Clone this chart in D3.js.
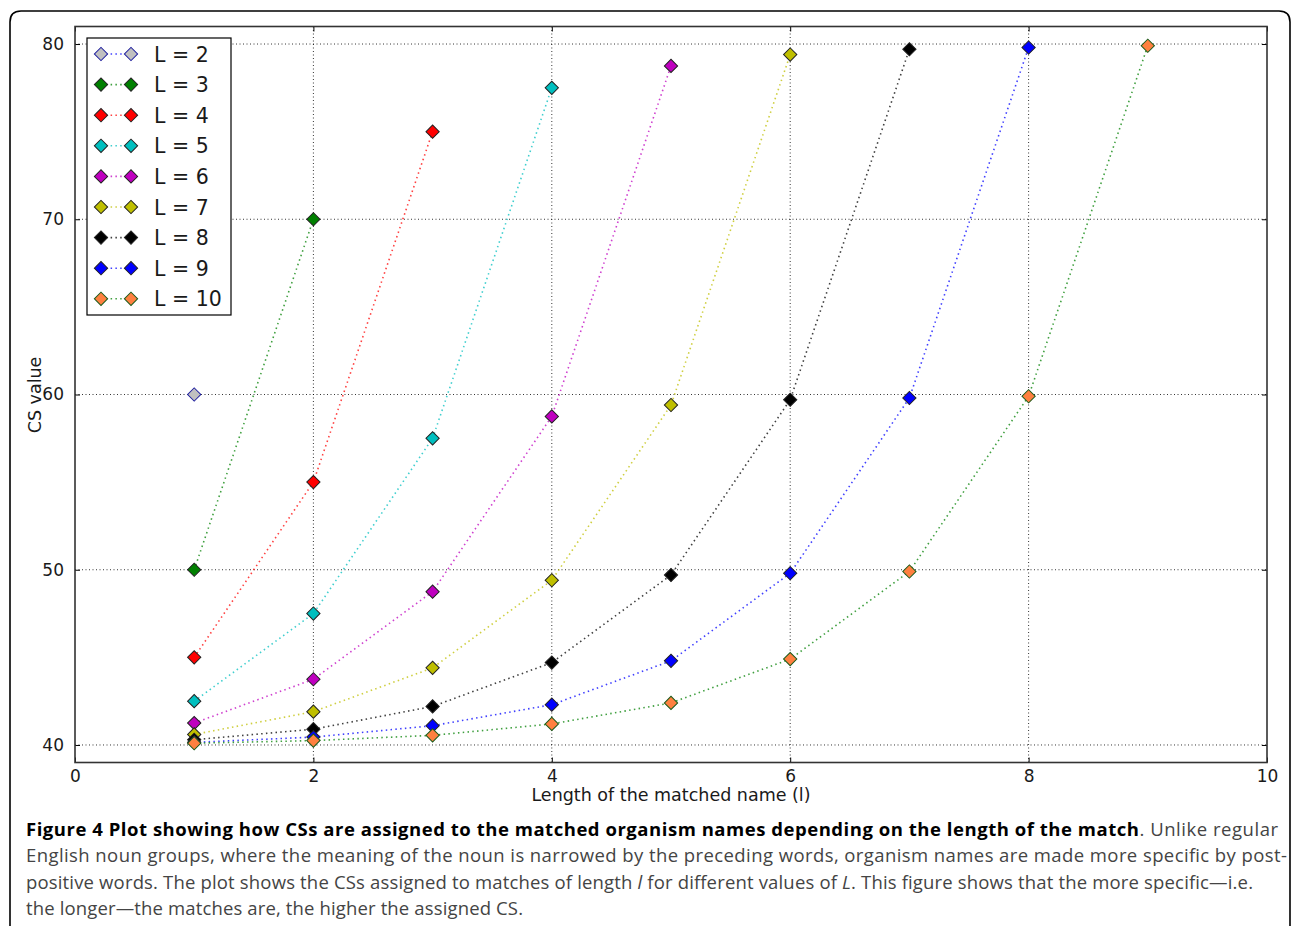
<!DOCTYPE html>
<html lang="en">

<head>
    <meta charset="utf-8">
    <title>CS value vs length of match</title>
    <script type="text/javascript" src="https://cdn.jsdelivr.net/npm/d3@7/dist/d3.min.js"></script>
    <style>
      body { margin: 0; background: #fff; }
      svg { display: block; }
    </style>
</head>

<body>
    <script type="text/javascript">
      var w = 1292;
      var h = 926;

      //// Data
      var lengths = [1, 2, 3, 4, 5, 6, 7, 8, 9];
      var seriesNames = ["L = 2", "L = 3", "L = 4", "L = 5", "L = 6", "L = 7", "L = 8", "L = 9", "L = 10"];
      var csL2 = [60];
      var csL3 = [50, 70];
      var csL4 = [45, 55, 75];
      var csL5 = [42.5, 47.5, 57.5, 77.5];
      var csL6 = [41.25, 43.75, 48.75, 58.75, 78.75];
      var csL7 = [40.6, 41.9, 44.4, 49.4, 59.4, 79.4];
      var csL8 = [40.3, 40.9, 42.2, 44.7, 49.7, 59.7, 79.7];
      var csL9 = [40.15, 40.45, 41.1, 42.3, 44.8, 49.8, 59.8, 79.8];
      var csL10 = [40.1, 40.25, 40.55, 41.2, 42.4, 44.9, 49.9, 59.9, 79.9];
      var xTicks = [0, 2, 4, 6, 8, 10];
      var yTicks = [40, 50, 60, 70, 80];

      var lineColors = ["#0000ff", "#008000", "#ff0000", "#00bfbf", "#bf00bf", "#bfbf00", "#000000", "#0000ff", "#008000"];
      var fillColors = ["#c0c0c0", "#008000", "#ff0000", "#00bfbf", "#bf00bf", "#bfbf00", "#000000", "#0000ff", "#ff8040"];
      var edgeColors = ["#2020a0", "#222", "#222", "#222", "#222", "#222", "#222", "#222", "#1a5a1a"];

      var allSeries = [csL2, csL3, csL4, csL5, csL6, csL7, csL8, csL9, csL10].map(function(vals, i) {
        return {
          name: seriesNames[i],
          line: lineColors[i], fill: fillColors[i], edge: edgeColors[i],
          points: vals.map(function(v, j) { return { l: lengths[j], cs: v }; })
        };
      });

      //// Prepare SVG Tag
      var svg = d3.select("body")
        .append("svg")
        .attr("width", w)
        .attr("height", h);

      svg.append("rect").attr("width", w).attr("height", h).attr("fill", "#fff");

      //// Page frame (rounded, open at bottom)
      svg.append("path")
        .attr("d", "M10,926 L10,22 Q10,11 21,11 L1279,11 Q1290,11 1290,22 L1290,926")
        .attr("fill", "none")
        .attr("stroke", "#000")
        .attr("stroke-width", 1.6);

      var pLeft = 75, pRight = 1267, pTop = 26.5, pBottom = 762.5;
      var x = d3.scaleLinear().domain([0, 10]).range([pLeft, pRight]);
      var y = d3.scaleLinear().domain([39, 81]).range([pBottom, pTop]);

      //// Grid
      var grid = svg.append("g");
      grid.selectAll("line.gx")
        .data(xTicks.slice(1, -1))
        .enter()
        .append("line")
        .attr("class", "gx")
        .attr("x1", function(d) { return x(d); })
        .attr("x2", function(d) { return x(d); })
        .attr("y1", pTop).attr("y2", pBottom)
        .attr("stroke", "#000").attr("stroke-width", 0.8)
        .attr("stroke-dasharray", "1,2.5");
      grid.selectAll("line.gy")
        .data(yTicks)
        .enter()
        .append("line")
        .attr("class", "gy")
        .attr("y1", function(d) { return y(d); })
        .attr("y2", function(d) { return y(d); })
        .attr("x1", pLeft).attr("x2", pRight)
        .attr("stroke", "#000").attr("stroke-width", 0.8)
        .attr("stroke-dasharray", "1,2.5");

      //// Axes
      var tickFont = "'DejaVu Sans', sans-serif";
      var xAxis = d3.axisBottom(x).tickValues(xTicks).tickSize(-5).tickPadding(7).tickFormat(d3.format("d"));
      var xAxisTop = d3.axisTop(x).tickValues(xTicks).tickSize(-5).tickFormat("");
      var yAxis = d3.axisLeft(y).tickValues(yTicks).tickSize(-5).tickPadding(11).tickFormat(d3.format("d"));
      var yAxisRight = d3.axisRight(y).tickValues(yTicks).tickSize(-5).tickFormat("");

      svg.append("g").attr("transform", "translate(0," + pBottom + ")").call(xAxis);
      svg.append("g").attr("transform", "translate(0," + pTop + ")").call(xAxisTop);
      svg.append("g").attr("transform", "translate(" + pLeft + ",0)").call(yAxis);
      svg.append("g").attr("transform", "translate(" + pRight + ",0)").call(yAxisRight);

      svg.selectAll(".domain").remove();
      svg.selectAll(".tick line").attr("stroke", "#000");
      svg.selectAll(".tick text")
        .attr("font-family", tickFont)
        .attr("font-size", "17px")
        .attr("fill", "#1a1a1a");

      svg.append("rect")
        .attr("x", pLeft).attr("y", pTop)
        .attr("width", pRight - pLeft).attr("height", pBottom - pTop)
        .attr("fill", "none")
        .attr("stroke", "#333")
        .attr("stroke-width", 1.6);

      svg.append("text")
        .text("Length of the matched name (l)")
        .attr("x", 671)
        .attr("y", 801)
        .attr("text-anchor", "middle")
        .attr("font-family", tickFont)
        .attr("font-size", "17.5px")
        .attr("fill", "#1a1a1a");

      svg.append("text")
        .text("CS value")
        .attr("transform", "translate(41," + 395 + ") rotate(-90)")
        .attr("text-anchor", "middle")
        .attr("font-family", tickFont)
        .attr("font-size", "17.5px")
        .attr("fill", "#1a1a1a");

      //// Draw Lines and Markers
      var line = d3.line()
        .x(function(d) { return x(d.l); })
        .y(function(d) { return y(d.cs); });

      var diamond = d3.symbol().type(d3.symbolSquare).size(88);

      var series = svg.append("g").selectAll("g")
        .data(allSeries)
        .enter()
        .append("g");

      series.append("path")
        .attr("d", function(d) { return line(d.points); })
        .attr("fill", "none")
        .attr("stroke", function(d) { return d.line; })
        .attr("stroke-width", 1.6)
        .attr("stroke-dasharray", "1.5,3.3")
        .attr("opacity", 0.75);

      series.selectAll("path.mk")
        .data(function(d) { return d.points.map(function(p) { return { p: p, s: d }; }); })
        .enter()
        .append("path")
        .attr("class", "mk")
        .attr("d", diamond)
        .attr("transform", function(d) { return "translate(" + x(d.p.l) + "," + y(d.p.cs) + ") rotate(45)"; })
        .attr("fill", function(d) { return d.s.fill; })
        .attr("stroke", function(d) { return d.s.edge; })
        .attr("stroke-width", 1);

      //// Legend
      var lgX = 87, lgY = 38, rowH = 30.6;
      var legend = svg.append("g");
      legend.append("rect")
        .attr("x", lgX).attr("y", lgY)
        .attr("width", 144).attr("height", 277)
        .attr("fill", "#fff")
        .attr("stroke", "#000")
        .attr("stroke-width", 1.2);

      var rows = legend.selectAll("g.row")
        .data(allSeries)
        .enter()
        .append("g")
        .attr("class", "row")
        .attr("transform", function(d, i) { return "translate(0," + (lgY + 16 + i * rowH) + ")"; });

      rows.append("line")
        .attr("x1", 101).attr("x2", 131)
        .attr("stroke", function(d) { return d.line; })
        .attr("stroke-width", 1.6)
        .attr("stroke-dasharray", "1.5,3.3")
        .attr("opacity", 0.75);

      [101, 131].forEach(function(mx) {
        rows.append("path")
          .attr("d", diamond)
          .attr("transform", "translate(" + mx + ",0) rotate(45)")
          .attr("fill", function(d) { return d.fill; })
          .attr("stroke", function(d) { return d.edge; })
          .attr("stroke-width", 1);
      });

      rows.append("text")
        .text(function(d) { return d.name; })
        .attr("x", 154)
        .attr("y", 7.5)
        .attr("font-family", tickFont)
        .attr("font-size", "20.5px")
        .attr("fill", "#1a1a1a");

      //// Caption (lines stretched to the widths seen in the figure)
      var capFont = "'Open Sans', sans-serif";
      var cap = svg.append("g")
        .attr("font-family", capFont)
        .attr("font-size", "18.5px");

      var l1 = cap.append("text").attr("x", 26).attr("y", 836)
        .attr("textLength", 1252).attr("lengthAdjust", "spacing");
      l1.append("tspan").text("Figure 4 Plot showing how CSs are assigned to the matched organism names depending on the length of the match")
        .attr("font-weight", "bold").attr("fill", "#000");
      l1.append("tspan").text(". Unlike regular").attr("fill", "#444");

      cap.append("text").attr("x", 26).attr("y", 862).attr("fill", "#444")
        .attr("textLength", 1261).attr("lengthAdjust", "spacing")
        .text("English noun groups, where the meaning of the noun is narrowed by the preceding words, organism names are made more specific by post-");

      var l3 = cap.append("text").attr("x", 26).attr("y", 889).attr("fill", "#444")
        .attr("textLength", 1227).attr("lengthAdjust", "spacing");
      l3.append("tspan").text("positive words. The plot shows the CSs assigned to matches of length ");
      l3.append("tspan").text("l").attr("font-style", "italic");
      l3.append("tspan").text(" for different values of ");
      l3.append("tspan").text("L").attr("font-style", "italic");
      l3.append("tspan").text(". This figure shows that the more specific\u2014i.e.");

      cap.append("text").attr("x", 26).attr("y", 915).attr("fill", "#444")
        .attr("textLength", 497).attr("lengthAdjust", "spacing")
        .text("the longer\u2014the matches are, the higher the assigned CS.");
    </script>
</body>

</html>
